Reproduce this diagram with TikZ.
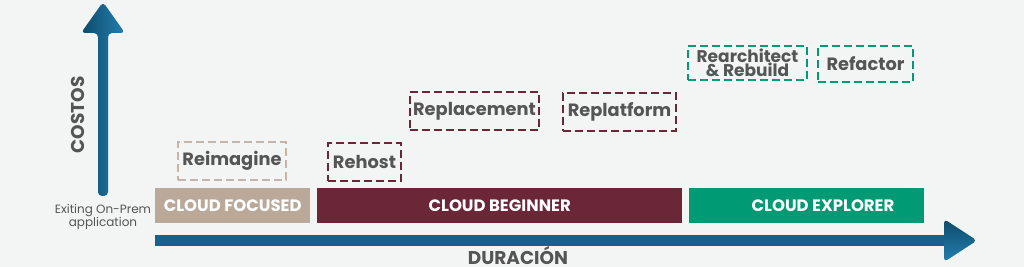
\documentclass[tikz,border=0pt]{standalone}
\usepackage{fontspec}
\setmainfont{Poppins}
\usetikzlibrary{shadings}
\definecolor{bg}{HTML}{F3F4F4}
\definecolor{tanc}{HTML}{BAA898}
\definecolor{tandash}{HTML}{C4B5A8}
\definecolor{maroon}{HTML}{6B2637}
\definecolor{greenc}{HTML}{009B74}
\definecolor{bluedark}{HTML}{0D4A6B}
\definecolor{bluelight}{HTML}{2480B0}
\definecolor{bluemid}{HTML}{17628A}
\definecolor{txt}{HTML}{555555}
\tikzset{
  phase/.style={inner sep=0pt, text=white, font=\bfseries\fontsize{16.5}{16.5}\selectfont},
  opt/.style={draw, dashed, dash pattern=on 8pt off 4pt, line width=1.6pt, inner sep=0pt, text=txt, font=\bfseries\fontsize{17.8}{17.8}\selectfont, align=center},
  lbl/.style={text=txt, font=\bfseries\fontsize{18.5}{18.5}\selectfont, inner sep=0pt}
}
\begin{document}
\begin{tikzpicture}[x=1pt,y=1pt]
\fill[bg] (0,0) rectangle (1024,267);
\useasboundingbox (0,0) rectangle (1024,267);
% vertical arrow
\shade[left color=bluedark, right color=bluelight, rounded corners=4pt]
  (98,71) -- (98,234) -- (81,234) -- (103,265) -- (125,234) -- (108,234) -- (108,71) -- cycle;
% horizontal arrow
\fill[bluemid] (155,21) rectangle (946,32);
\shade[top color=bluedark, bottom color=bluelight, rounded corners=4pt]
  (944,48) -- (977,26.5) -- (944,5) -- cycle;
% phase boxes
\node[phase, fill=tanc, minimum width=155pt, minimum height=35pt, anchor=south west] (cf) at (155,44) {CLOUD FOCUSED};
\node[phase, fill=maroon, minimum width=365pt, minimum height=35pt, anchor=south west] (cb) at (317,44) {CLOUD BEGINNER};
\node[fill=greenc, minimum width=235pt, minimum height=35pt, inner sep=0pt, anchor=south west] (ce) at (689,44) {};
\node[phase] (cet) at (823,61.5) {CLOUD EXPLORER};
% options
\node[opt, draw=tandash, minimum width=108pt, minimum height=38pt] (reim) at (232,106) {Reimagine};
\node[opt, draw=maroon, minimum width=73pt, minimum height=38pt] (rehost) at (364.5,105) {Rehost};
\node[opt, draw=maroon, minimum width=129pt, minimum height=38pt] (repl) at (474.5,156) {Replacement};
\node[opt, draw=maroon, minimum width=113pt, minimum height=38pt] (replat) at (619.5,155) {Replatform};
\node[opt, draw=greenc, minimum width=119pt, minimum height=34pt, font=\bfseries\fontsize{17}{14}\selectfont] (rearch) at (747.5,204) {Rearchitect\\\& Rebuild};
\node[opt, draw=greenc, minimum width=95pt, minimum height=36pt] (refac) at (865.5,203) {Refactor};
% labels
\node[lbl, rotate=90] (costos) at (78,152) {COSTOS};
\node[lbl, anchor=base] (dur) at (518,2.5) {DURACIÓN};
\node[text=txt, font=\fontsize{12}{11.5}\selectfont, align=center, inner sep=0pt] (exit) at (103,50) {Exiting On-Prem\\application};
\end{tikzpicture}
\end{document}
